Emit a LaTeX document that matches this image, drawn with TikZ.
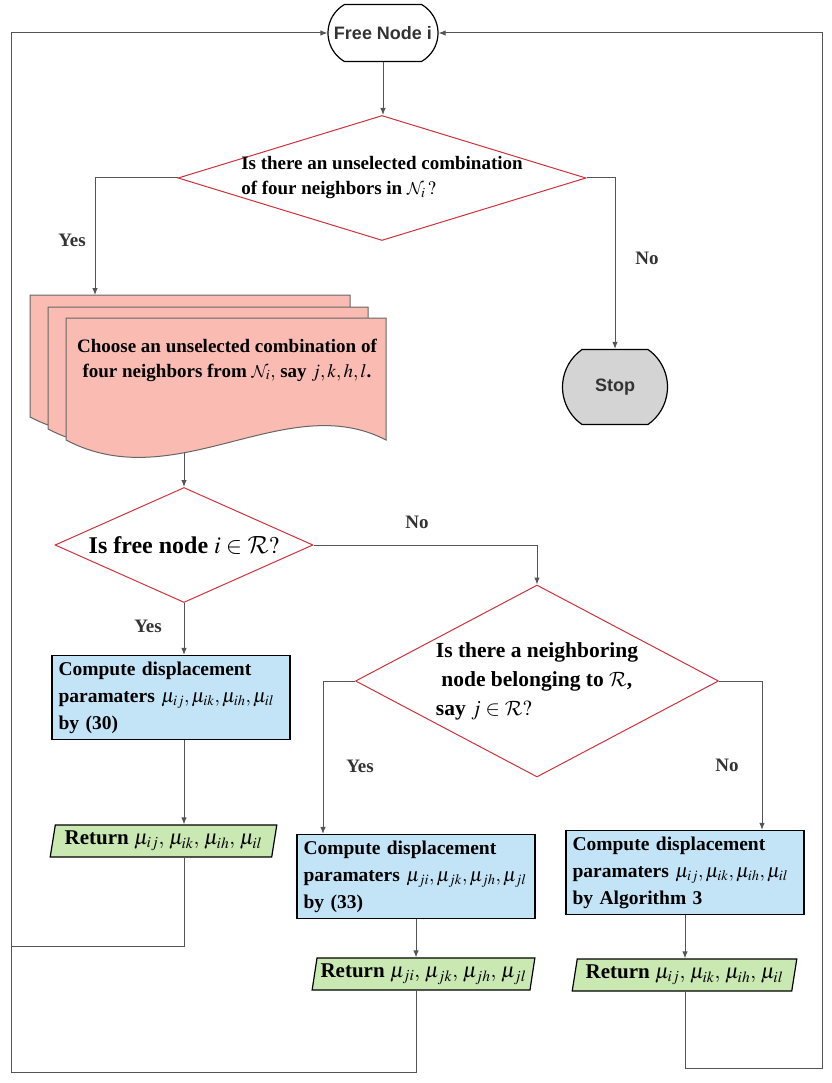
\documentclass[tikz,border=0pt]{standalone}
\usepackage{mathptmx}
\DeclareMathAlphabet{\mathcal}{OMS}{cmsy}{m}{n}
\usepackage{fontspec}
\setmainfont{Liberation Serif}
\newfontfamily\headfont{Liberation Sans}
\usetikzlibrary{shapes.geometric,shapes.misc,arrows.meta}
\definecolor{cline}{RGB}{85,85,85}
\definecolor{cred}{RGB}{206,50,60}
\definecolor{cpink}{RGB}{250,187,178}
\definecolor{cblue}{RGB}{194,228,246}
\definecolor{cgreen}{RGB}{201,232,178}
\definecolor{cgray}{RGB}{212,212,212}
\definecolor{ctext}{RGB}{51,51,51}

\tikzset{
  flow/.style={draw=cline, line width=1pt, -{Latex[length=7pt,width=5.5pt]}},
  plainline/.style={draw=cline, line width=1pt},
  term/.style={rounded rectangle, draw=black, line width=1.2pt, fill=white, inner sep=0pt,
    font=\headfont\fontsize{18}{20}\selectfont\bfseries, text=ctext},
  decision/.style={diamond, draw=cred, line width=1pt, fill=white, inner sep=0pt},
  dtext/.style={align=left, font=\fontsize{19}{25}\selectfont\bfseries},
  process/.style={rectangle, draw=black, line width=1.2pt, fill=cblue, minimum width=238pt,
    minimum height=84pt, text width=225pt, inner xsep=6.5pt, inner ysep=3pt, align=left,
    font=\fontsize{19.5}{27}\selectfont\bfseries},
  output/.style={trapezium, trapezium left angle=77, trapezium right angle=103,
    trapezium stretches=true, draw=black, line width=1.2pt, fill=cgreen, inner sep=0pt,
    minimum height=32pt, font=\fontsize{21}{25}\selectfont\bfseries},
  lbl/.style={font=\fontsize{19}{22}\selectfont\bfseries, text=ctext}
}

\begin{document}
\begin{tikzpicture}
\useasboundingbox (0pt,0pt) rectangle (831pt,-1083pt);
% start / stop
\node (free) [term, minimum width=110pt, minimum height=57pt, rounded rectangle arc length=120] at (383pt,-33pt) {Free Node i};
\node (stop) [term, fill=cgray, minimum width=105pt, minimum height=75pt, rounded rectangle arc length=110] at (615pt,-387pt) {Stop};
% decisions
\node (d1) [decision, minimum width=408pt, minimum height=125pt,
  label={[dtext]center:Is there an unselected combination\\of four neighbors in $\mathcal{N}_i\,?$}] at (382pt,-178pt) {};
\node (d2) [decision, minimum width=258pt, minimum height=115pt,
  label={[dtext, font=\fontsize{24}{28}\selectfont\bfseries]center:Is free node $i\in\mathcal{R}?$}] at (184pt,-545pt) {};
\node (d3) [decision, minimum width=363pt, minimum height=192pt,
  label={[dtext, font=\fontsize{21.5}{29}\selectfont\bfseries]center:Is there a neighboring\\\ node belonging to $\mathcal{R}$,\\say $j\in\mathcal{R}?$}] at (537pt,-681pt) {};
% stack of documents
\foreach \x/\y in {30/295, 48/307, 66/318}
{
  \begin{scope}[shift={(\x pt,-\y pt)}]
    \draw [fill=cpink, draw=black!60, line width=1pt] (0pt,0pt) -- (320pt,0pt) -- (320pt,-122pt)
      .. controls (220pt,-70pt) and (110pt,-180pt) .. (0pt,-122pt) -- cycle;
  \end{scope}
}
\node (choose) [align=center, font=\fontsize{19}{25}\selectfont\bfseries] at (227pt,-360pt)
  {Choose an unselected combination of\\four neighbors from $\mathcal{N}_i,$\ say $j,k,h,l$.};
\coordinate (stacktop) at (95pt,-295pt);
\coordinate (stackout) at (184pt,-453pt);
% processes
\node (comp1) [process] at (171pt,-697.5pt) {Compute displacement\\paramaters $\mu_{ij},\mu_{ik},\mu_{ih},\mu_{il}$\\by (30)};
\node (comp2) [process] at (416pt,-876.5pt) {Compute displacement\\paramaters $\mu_{ji},\mu_{jk},\mu_{jh},\mu_{jl}$\\by (33)};
\node (comp3) [process] at (685pt,-872.5pt) {Compute displacement\\paramaters $\mu_{ij},\mu_{ik},\mu_{ih},\mu_{il}$\\by Algorithm 3};
% outputs
\node (ret1) [output, minimum width=227pt] at (163.5pt,-841pt) {Return $\mu_{ij},\,\mu_{ik},\,\mu_{ih},\,\mu_{il}$};
\node (ret2) [output, minimum width=223pt] at (423.5pt,-974pt) {Return $\mu_{ji},\,\mu_{jk},\,\mu_{jh},\,\mu_{jl}$};
\node (ret3) [output, minimum width=225pt] at (684.5pt,-975pt) {Return $\mu_{ij},\,\mu_{ik},\,\mu_{ih},\,\mu_{il}$};
% labels
\node (yes1) [lbl] at (72pt,-240pt) {Yes};
\node (no1) [lbl] at (647pt,-258pt) {No};
\node (no2) [lbl] at (417pt,-522pt) {No};
\node (yes2) [lbl] at (148pt,-626pt) {Yes};
\node (yes3l) [lbl] at (360pt,-766pt) {Yes};
\node (no3l) [lbl] at (727pt,-765pt) {No};
% helper points
\coordinate (yes3) at (323pt,-681pt);
\coordinate (no3) at (762pt,-681pt);
\coordinate (join1) at (11pt,-946pt);
\coordinate (lrail) at (11pt,-1072pt);
\coordinate (rrail) at (822pt,-1068pt);
% connectors
\draw [flow] (free.south) -- (free.south |- d1.north);
\draw [flow] (d1.west) -| (stacktop);
\draw [flow] (d1.east) -| (stop.north);
\draw [flow] (stackout) -- (d2.north);
\draw [flow] (d2.east) -| (d3.north);
\draw [flow] (d2.south) -- (d2.south |- comp1.north);
\draw [flow] (d2.south |- comp1.south) -- (d2.south |- ret1.north);
\draw [flow] (d3.west) -- (yes3) -- (yes3 |- comp2.north);
\draw [flow] (d3.east) -- (no3) -- (no3 |- comp3.north);
\draw [flow] (comp2.south) -- (comp2.south |- ret2.north);
\draw [flow] (comp3.south) -- (comp3.south |- ret3.north);
\draw [plainline] (d2.south |- ret1.south) |- (join1);
\draw [flow] (comp2.south |- ret2.south) |- (lrail) |- (free.west);
\draw [flow] (comp3.south |- ret3.south) |- (rrail) |- (free.east);
\end{tikzpicture}
\end{document}
